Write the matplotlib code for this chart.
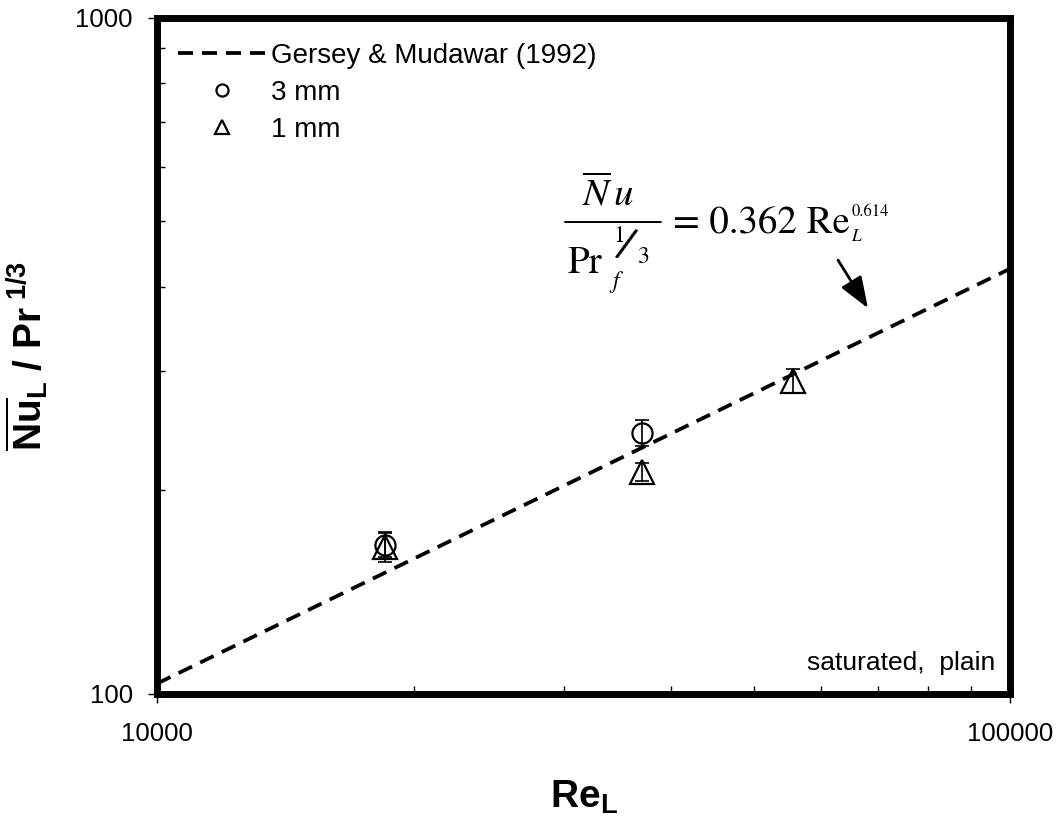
import numpy as np
import matplotlib
matplotlib.use('Agg')
import matplotlib.pyplot as plt
from matplotlib.ticker import LogLocator, NullFormatter

plt.rcParams['font.family'] = ['Liberation Sans', 'DejaVu Sans']
plt.rcParams['mathtext.fontset'] = 'custom'
plt.rcParams['mathtext.rm'] = 'Liberation Sans'
plt.rcParams['mathtext.it'] = 'Liberation Sans:italic'
plt.rcParams['mathtext.bf'] = 'Liberation Sans:bold'

# ---- data ----
re_3mm = [18500, 37000]
nu_3mm = [166, 243]
err_3mm = [7, 11]

re_1mm = [18500, 37000, 55600]
nu_1mm = [165, 213, 290]
err_1mm = [8.5, 6.5, 12]

# Gersey & Mudawar (1992) correlation: Nu/Pr^(1/3) = 0.362 Re^0.614
corr_coef = 0.362
corr_exp = 0.614
re_line = [10000, 100000]
nu_line = [corr_coef * r ** corr_exp for r in re_line]

x_ticks = [10000, 100000]
x_ticklabels = ['10000', '100000']
y_ticks = [100, 1000]
y_ticklabels = ['100', '1000']

fig = plt.figure(figsize=(10.63, 8.19), dpi=100)
ax = fig.add_axes([0.1477, 0.1532, 0.8029, 0.8254])
ax.set_xscale('log')
ax.set_yscale('log')
ax.set_xlim(10000, 100000)
ax.set_ylim(100, 1000)

ax.plot(re_line, nu_line, color='black', lw=2.7, linestyle=(0, (4.0, 2.4)),
        label='Gersey & Mudawar (1992)')

ax.errorbar(re_3mm, nu_3mm, yerr=err_3mm, fmt='none', ecolor='black',
            elinewidth=1.2, capsize=5, capthick=1.2)
ax.errorbar(re_1mm, nu_1mm, yerr=err_1mm, fmt='none', ecolor='black',
            elinewidth=1.2, capsize=5, capthick=1.2)
ax.plot(re_3mm, nu_3mm, 'o', ms=14.5, mfc='none', mec='black', mew=1.6,
        label='3 mm')
ax.plot(re_1mm, nu_1mm, '^', ms=17.5, mfc='none', mec='black', mew=1.6,
        label='1 mm')

for s in ax.spines.values():
    s.set_linewidth(5)

ax.set_xticks(x_ticks)
ax.set_xticklabels(x_ticklabels)
ax.set_yticks(y_ticks)
ax.set_yticklabels(y_ticklabels)
ax.xaxis.set_minor_locator(LogLocator(base=10, subs=np.arange(2, 10)))
ax.yaxis.set_minor_locator(LogLocator(base=10, subs=np.arange(2, 10)))
ax.xaxis.set_minor_formatter(NullFormatter())
ax.yaxis.set_minor_formatter(NullFormatter())
ax.tick_params(which='major', direction='out', length=6.5, width=1,
               labelsize=18.5, top=False, right=False)
ax.tick_params(axis='x', which='major', pad=14)
ax.tick_params(axis='y', which='major', pad=11)
ax.tick_params(which='minor', direction='in', length=6, width=1,
               top=False, right=False)

leg = ax.legend(loc='upper left', bbox_to_anchor=(0.011, 0.979), frameon=False,
                fontsize=20, handlelength=3.2, handletextpad=0.15,
                labelspacing=0.4, markerscale=0.6, borderaxespad=0.0)


# ---- correlation equation (built from text pieces) ----
def axpt(px, py):
    return ((px - 157) / 853.5, (693.5 - py) / 676)


serif = 'STIXGeneral'
kw = dict(transform=ax.transAxes, fontfamily=serif)
# numerator
ax.text(*axpt(608, 206), r'$\overline{N}\,u$', math_fontfamily='stix',
        fontsize=28, ha='center', va='baseline', transform=ax.transAxes)
# fraction bar
ax.annotate('', xy=axpt(661, 222), xytext=axpt(565, 222),
            xycoords='axes fraction', textcoords='axes fraction',
            arrowprops=dict(arrowstyle='-', lw=1.4, color='black',
                            shrinkA=0, shrinkB=0))
# denominator
ax.text(*axpt(567, 273), 'Pr', fontsize=28, ha='left', va='baseline', **kw)
ax.text(*axpt(612, 288), 'f', fontsize=17, style='italic', ha='left',
        va='baseline', **kw)
ax.text(*axpt(619, 242), '1', fontsize=17, ha='center', va='baseline', **kw)
ax.text(*axpt(624, 248), '/', fontsize=34, rotation=-18, ha='center',
        va='center', **kw)
ax.text(*axpt(643, 263), '3', fontsize=17, ha='center', va='baseline', **kw)
# right-hand side
eq = ax.text(*axpt(673, 233), '= 0.362 Re', fontsize=28, ha='left',
             va='baseline', **kw)
fig.canvas.draw()
bb = eq.get_window_extent().transformed(ax.transAxes.inverted())
ax.text(bb.x1 + 0.002, axpt(0, 216)[1], '0.614', fontsize=12, ha='left',
        va='baseline', **kw)
ax.text(bb.x1 + 0.002, axpt(0, 241)[1], 'L', style='italic', fontsize=12.5,
        ha='left', va='baseline', **kw)

ax.annotate('', xy=(0.833, 0.570), xytext=(0.798, 0.641),
            xycoords='axes fraction', textcoords='axes fraction',
            arrowprops=dict(arrowstyle='-|>,head_length=0.8,head_width=0.3',
                            lw=2, color='black', mutation_scale=24,
                            shrinkA=0, shrinkB=0))

ax.text(0.982, 0.045, 'saturated,  plain', fontsize=19, transform=ax.transAxes,
        ha='right', va='center')

ax.set_xlabel(r'$\mathbf{Re}_{\mathbf{L}}$', fontsize=28)
ax.xaxis.set_label_coords(0.5, -0.126)
ax.set_ylabel(r'$\overline{\mathbf{Nu}}_{\mathbf{L}}\mathbf{\ /\ Pr}^{\ \mathbf{1/3}}$',
              fontsize=28)
ax.yaxis.set_label_coords(-0.125, 0.5)

fig.savefig('out.png', dpi=100)
